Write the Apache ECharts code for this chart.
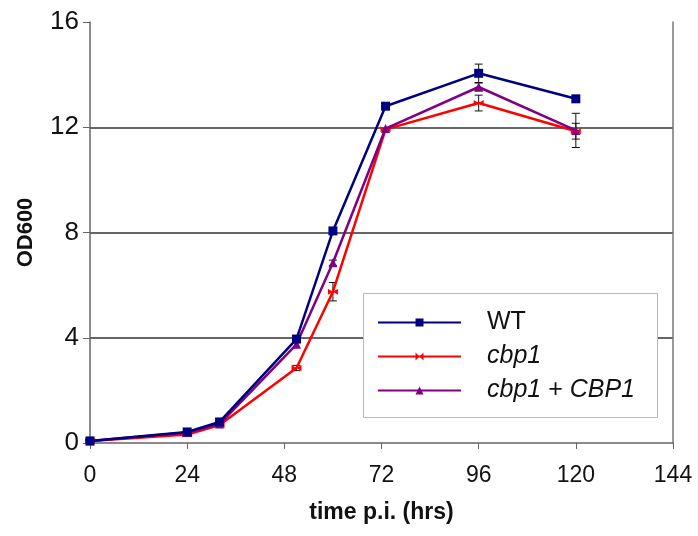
<!DOCTYPE html>
<html>
<head>
<meta charset="utf-8">
<script src="https://cdn.jsdelivr.net/npm/echarts@6/dist/echarts.min.js"></script>
<style>
  html, body { margin: 0; padding: 0; background: #fff; }
  #chart { width: 698px; height: 536px; }
</style>
</head>
<body>
<div id="chart"></div>
<script>
// time points (hrs)
const hours = [0, 24, 32, 51, 60, 73, 96, 120];
const yTicks = [0, 4, 8, 12, 16];

const wt = [0.08, 0.42, 0.80, 3.95, 8.06, 12.80, 14.05, 13.08];
const cbp1 = [0.08, 0.32, 0.68, 2.85, 5.75, 11.92, 12.92, 11.85];
const rescue = [0.08, 0.40, 0.72, 3.75, 6.85, 11.95, 13.53, 11.88];

// error (+/-)
const wtErr = [0, 0, 0, 0, 0, 0, 0.35, 0];
const cbp1Err = [0, 0, 0, 0.1, 0.35, 0, 0.3, 0.3];
const rescueErr = [0, 0, 0, 0, 0.1, 0, 0.15, 0.65];

function pairs(vals) {
    return hours.map(function (h, i) { return [h, vals[i]]; });
}
function errData(vals, errs) {
    const out = [];
    hours.forEach(function (h, i) {
        if (errs[i] > 0) out.push([h, vals[i] - errs[i], vals[i] + errs[i]]);
    });
    return out;
}
function errSeries(vals, errs) {
    return {
        type: 'custom',
        silent: true,
        z: 1,
        data: errData(vals, errs),
        renderItem: function (params, api) {
            const lo = api.coord([api.value(0), api.value(1)]);
            const hi = api.coord([api.value(0), api.value(2)]);
            const w = 4;
            const st = {stroke: '#111', lineWidth: 1};
            return {
                type: 'group',
                children: [
                    {type: 'line', shape: {x1: lo[0], y1: lo[1], x2: hi[0], y2: hi[1]}, style: st},
                    {type: 'line', shape: {x1: lo[0] - w, y1: lo[1], x2: lo[0] + w, y2: lo[1]}, style: st},
                    {type: 'line', shape: {x1: hi[0] - w, y1: hi[1], x2: hi[0] + w, y2: hi[1]}, style: st}
                ]
            };
        }
    };
}

const bowtie = 'path://M0,0L5,3L10,0L10,6L5,3L0,6Z';
const font = 'Liberation Sans';

const chart = echarts.init(document.getElementById('chart'), null, {renderer: 'canvas'});
const option = {
    backgroundColor: '#ffffff',
    animation: false,
    grid: {left: 90, right: 25, top: 22, bottom: 93},
    graphic: [{
        type: 'rect',
        left: 363, top: 293,
        shape: {width: 294, height: 124},
        style: {fill: '#fff', stroke: '#b8b8b8', lineWidth: 1},
        z: 10
    }],
    legend: {
        left: 377,
        top: 310,
        orient: 'vertical',
        padding: 0,
        itemGap: 9,
        itemWidth: 83,
        itemHeight: 10,
        z: 11,
        data: ['WT', 'cbp1', 'cbp1 + CBP1'],
        formatter: function (name) {
            if (name === 'WT') return '{n|WT}';
            if (name === 'cbp1') return '{i|cbp1}';
            return '{i|cbp1}{n| + }{i|CBP1}';
        },
        textStyle: {
            padding: [0, 0, 0, 21],
            rich: {
                n: {fontFamily: font, fontSize: 25, lineHeight: 24, color: '#111'},
                i: {fontFamily: font, fontSize: 25, lineHeight: 24, fontStyle: 'italic', color: '#111'}
            }
        }
    },
    xAxis: {
        type: 'value',
        min: 0,
        max: 144,
        interval: 24,
        name: 'time p.i. (hrs)',
        nameLocation: 'middle',
        nameGap: 58,
        nameTextStyle: {fontFamily: font, fontSize: 23, fontWeight: 'bold', color: '#111'},
        axisLine: {lineStyle: {color: '#666', width: 1.5}},
        axisTick: {show: true, length: 6, lineStyle: {color: '#666'}},
        axisLabel: {fontFamily: font, fontSize: 23, color: '#111', margin: 21},
        splitLine: {show: false}
    },
    yAxis: [{
        type: 'value',
        min: yTicks[0],
        max: yTicks[yTicks.length - 1],
        interval: 4,
        name: 'OD600',
        nameLocation: 'middle',
        nameGap: 53,
        nameTextStyle: {fontFamily: font, fontSize: 22, fontWeight: 'bold', color: '#111'},
        axisLine: {show: true, lineStyle: {color: '#666', width: 1.5}},
        axisTick: {show: true, length: 7, lineStyle: {color: '#666'}},
        axisLabel: {fontFamily: font, fontSize: 26, color: '#111', margin: 11},
        splitLine: {show: true, lineStyle: {color: ['transparent', '#333', '#333', '#333', 'transparent'], width: 1.5}}
    }, {
        type: 'value',
        position: 'right',
        min: yTicks[0],
        max: yTicks[yTicks.length - 1],
        interval: 4,
        axisLine: {show: true, lineStyle: {color: '#777', width: 1.5}},
        axisTick: {show: false},
        axisLabel: {show: false},
        splitLine: {show: false}
    }],
    series: [
        errSeries(wt, wtErr),
        errSeries(cbp1, cbp1Err),
        errSeries(rescue, rescueErr),
        {
            name: 'cbp1', type: 'line', data: pairs(cbp1), z: 3,
            color: '#ff0000',
            symbol: bowtie, symbolSize: [10, 6],
            lineStyle: {width: 2.5, color: '#ff0000'},
            itemStyle: {color: '#ff0000'}
        },
        {
            name: 'cbp1 + CBP1', type: 'line', data: pairs(rescue), z: 4,
            color: '#800080',
            symbol: 'triangle', symbolSize: 9,
            lineStyle: {width: 2.5, color: '#800080'},
            itemStyle: {color: '#800080'}
        },
        {
            name: 'WT', type: 'line', data: pairs(wt), z: 5,
            color: '#000080',
            symbol: 'rect', symbolSize: 9,
            lineStyle: {width: 2.5, color: '#000080'},
            itemStyle: {color: '#000080'}
        }
    ]
};
chart.setOption(option);
</script>
</body>
</html>
